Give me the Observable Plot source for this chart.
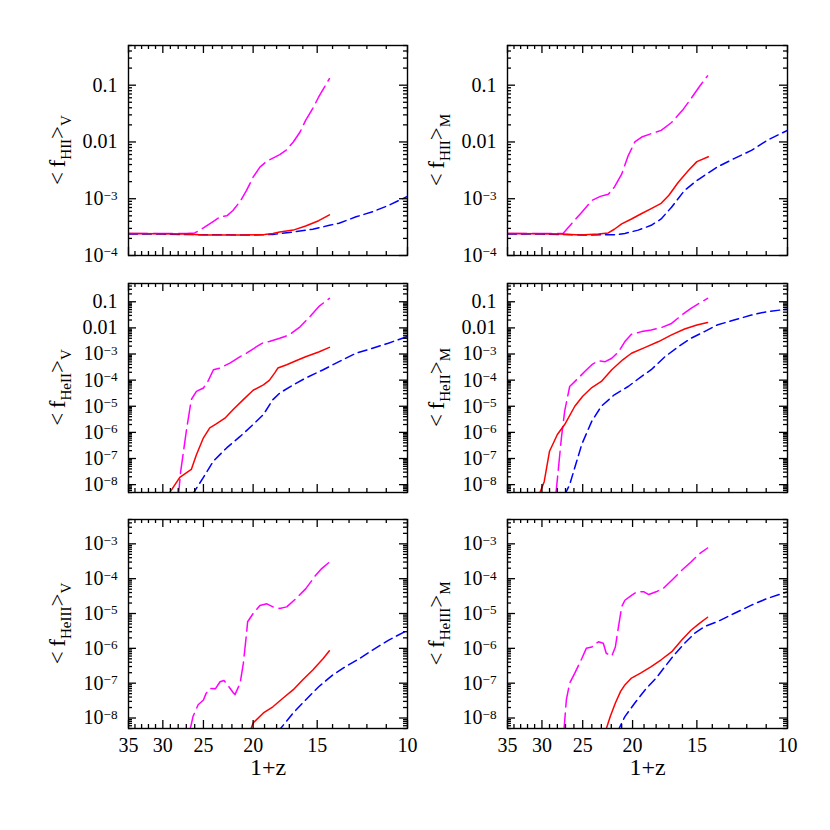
<!DOCTYPE html>
<html><head><meta charset="utf-8">
<script src="https://cdn.jsdelivr.net/npm/d3@7"></script>
<script src="https://cdn.jsdelivr.net/npm/@observablehq/plot@0.6"></script>
<style>
body{margin:0;background:#fff;}
#wrap{position:relative;width:830px;height:830px;overflow:hidden;background:#fff;}
#wrap svg{position:absolute;}
</style></head><body><div id="wrap"></div>
<script>
// ---- axis tick values ----
const xMajorTicks = [35, 30, 25, 20, 15, 10];
const yMajorTop = [1e-4, 1e-3, 0.01, 0.1];
const yMajorMid = [1e-8, 1e-7, 1e-6, 1e-5, 1e-4, 1e-3, 0.01, 0.1];
const yMajorBot = [1e-8, 1e-7, 1e-6, 1e-5, 1e-4, 1e-3];

// ---- data: [1+z, fraction] ----
// <f_HII>_V
const hiiV_magenta = [[35,2.45e-4],[30,2.45e-4],[27,2.45e-4],[26,2.5e-4],[25.4,2.8e-4],[24.7,3.3e-4],[23.9,4.0e-4],[23.2,4.8e-4],[22.5,5.0e-4],[21.9,6.2e-4],[21.2,9e-4],[20.6,1.4e-3],[20.0,2.4e-3],[19.4,3.6e-3],[18.8,4.6e-3],[18.3,5.2e-3],[17.75,6.0e-3],[17.2,7.3e-3],[16.7,0.01],[16.2,0.015],[15.8,0.024],[15.3,0.039],[14.9,0.062],[14.2,0.13]];
const hiiV_red = [[35,2.45e-4],[30,2.42e-4],[27,2.38e-4],[25,2.3e-4],[23,2.3e-4],[21,2.3e-4],[19,2.35e-4],[18.3,2.45e-4],[17.75,2.6e-4],[16.7,2.8e-4],[15.8,3.3e-4],[14.9,4.1e-4],[14.2,5.2e-4]];
const hiiV_blue = [[35,2.4e-4],[30,2.38e-4],[25,2.32e-4],[20,2.3e-4],[18.3,2.35e-4],[16.7,2.6e-4],[15.3,2.9e-4],[14.2,3.4e-4],[13.6,3.7e-4],[12.6,4.8e-4],[11.7,5.9e-4],[10.9,7.6e-4],[10,1.1e-3]];
// <f_HII>_M
const hiiM_magenta = [[35,2.45e-4],[30,2.45e-4],[27.3,2.45e-4],[26.3,3.6e-4],[25.1,5.8e-4],[24.0,9.3e-4],[23.1,1.1e-3],[22.3,1.2e-3],[21.7,1.6e-3],[21.0,2.7e-3],[20.4,5.7e-3],[19.8,0.01],[19.2,0.0122],[18.4,0.014],[17.6,0.016],[16.8,0.022],[16.0,0.036],[15.4,0.058],[14.85,0.093],[14.3,0.146]];
const hiiM_red = [[35,2.45e-4],[30,2.42e-4],[27.5,2.38e-4],[25.3,2.3e-4],[23.3,2.4e-4],[22.3,2.5e-4],[21.7,2.9e-4],[21.0,3.6e-4],[20.1,4.4e-4],[19.2,5.5e-4],[18.4,6.7e-4],[17.6,8.3e-4],[17.0,1.15e-3],[16.3,1.95e-3],[15.55,3.2e-3],[15.0,4.5e-3],[14.25,5.5e-3]];
const hiiM_blue = [[35,2.4e-4],[30,2.38e-4],[25,2.3e-4],[21.5,2.32e-4],[20.7,2.45e-4],[19.5,2.8e-4],[18.4,3.4e-4],[17.6,4.4e-4],[16.8,7.1e-4],[15.85,1.4e-3],[15.0,2.1e-3],[14.3,2.8e-3],[13.7,3.6e-3],[12.7,5.1e-3],[11.75,7.1e-3],[10.95,0.0107],[10,0.016]];
// <f_HeII>_V
const heiiV_magenta = [[28.0,3e-9],[27.7,3e-8],[27.0,1.1e-6],[26.4,1.8e-5],[25.8,3.7e-5],[25.0,5e-5],[24.5,9e-5],[23.9,2.5e-4],[23.2,2.9e-4],[22.2,4.5e-4],[21.2,8e-4],[20.6,1.07e-3],[19.7,1.9e-3],[19.1,2.75e-3],[18.6,3.0e-3],[17.75,4.0e-3],[17.0,5.4e-3],[16.2,0.011],[15.5,0.027],[14.9,0.065],[14.2,0.135]];
const heiiV_red = [[29.3,4e-9],[27.8,1.9e-8],[26.4,3.8e-8],[25.8,1.4e-7],[25.0,6.2e-7],[24.3,1.5e-6],[23.6,2.1e-6],[22.7,3.5e-6],[21.9,7.4e-6],[20.9,1.8e-5],[20.0,4.1e-5],[19.1,6.6e-5],[18.6,9.8e-5],[18.15,1.9e-4],[17.9,2.9e-4],[17.2,3.9e-4],[16.5,5.5e-4],[15.8,7.9e-4],[14.9,1.2e-3],[14.2,1.8e-3]];
const heiiV_blue = [[26.3,4e-9],[25.0,1.9e-8],[23.9,8e-8],[22.5,2.6e-7],[21.2,7e-7],[20.0,2e-6],[19.1,4.8e-6],[18.3,1.8e-5],[17.75,3.2e-5],[16.7,6.6e-5],[15.8,1.2e-4],[14.6,2.5e-4],[13.6,5.1e-4],[12.6,1.07e-3],[11.7,1.66e-3],[10.9,2.6e-3],[10.0,4.7e-3]];
// <f_HeII>_M
const heiiM_magenta = [[28.2,4e-9],[27.9,3.3e-8],[27.5,6.2e-7],[27.1,6.5e-6],[26.5,5.7e-5],[25.5,1.2e-4],[24.8,2.1e-4],[24.0,3.9e-4],[23.3,5.5e-4],[22.6,5.1e-4],[21.95,6.9e-4],[21.3,1.2e-3],[20.7,3.0e-3],[20.1,5.7e-3],[19.2,7.2e-3],[18.4,8.3e-3],[17.6,0.0102],[16.8,0.0148],[16.05,0.031],[15.4,0.056],[14.85,0.087],[14.3,0.135]];
const heiiM_red = [[30.4,4e-9],[29.7,1.3e-8],[29.0,1.9e-7],[28.0,8.3e-7],[27.1,2.0e-6],[25.9,1e-5],[25.0,2.4e-5],[24.0,5.2e-5],[23.0,8.9e-5],[21.95,2.5e-4],[20.9,6e-4],[20.1,1.07e-3],[18.9,1.8e-3],[17.8,3.0e-3],[16.8,5.4e-3],[15.85,9.1e-3],[15.0,0.0129],[14.3,0.0162]];
const heiiM_blue = [[27.1,4e-9],[26.5,1.0e-8],[25.9,4.5e-8],[25.1,3.5e-7],[24.0,2.7e-6],[23.0,1e-5],[21.7,2.75e-5],[20.4,5.7e-5],[19.2,1.4e-4],[18.4,2.5e-4],[17.3,7.9e-4],[16.3,1.9e-3],[15.4,4e-3],[14.5,7.2e-3],[13.7,0.0129],[12.7,0.02],[11.75,0.031],[10.95,0.042],[10.0,0.052]];
// <f_HeIII>_V
const heiiiV_magenta = [[26.6,4e-9],[26.2,1.1e-8],[25.6,2.4e-8],[25.0,3.3e-8],[24.7,5.1e-8],[24.3,7e-8],[23.7,6.9e-8],[23.2,1.1e-7],[22.8,1.2e-7],[22.3,7.9e-8],[21.9,5.5e-8],[21.7,4.7e-8],[21.2,1e-7],[20.9,3.7e-7],[20.6,2.7e-6],[20.5,5.8e-6],[20.0,1e-5],[19.4,1.7e-5],[18.8,1.9e-5],[18.3,1.55e-5],[17.75,1.4e-5],[17.2,1.55e-5],[16.5,2.7e-5],[15.8,5.1e-5],[15.1,1.26e-4],[14.7,1.95e-4],[14.2,3e-4]];
const heiiiV_red = [[20.3,4e-9],[20.0,7.2e-9],[19.1,1.4e-8],[18.3,2.1e-8],[17.5,3.7e-8],[16.7,6.5e-8],[16.0,1.26e-7],[15.3,2.4e-7],[14.6,5.1e-7],[14.2,8.5e-7]];
const heiiiV_blue = [[17.9,4e-9],[16.7,1.4e-8],[15.8,3.3e-8],[14.9,7.9e-8],[14.0,1.7e-7],[13.2,3e-7],[12.4,5.1e-7],[11.7,8.9e-7],[10.9,1.7e-6],[10.0,3.3e-6]];
// <f_HeIII>_M
const heiiiM_magenta = [[27.2,4e-9],[26.9,3.3e-8],[26.5,1e-7],[25.9,1.95e-7],[25.1,5.1e-7],[24.6,1e-6],[24.0,1.1e-6],[23.3,1.55e-6],[22.8,1.4e-6],[22.5,7.2e-7],[21.95,6e-7],[21.6,1.1e-6],[21.3,4.2e-6],[21.0,1.55e-5],[20.7,2.4e-5],[20.1,3.3e-5],[19.6,4.2e-5],[19.0,4.2e-5],[18.6,3.5e-5],[18.0,4.2e-5],[17.4,5.4e-5],[16.8,8.9e-5],[16.05,1.74e-4],[15.4,3e-4],[14.85,5.1e-4],[14.3,7.6e-4]];
const heiiiM_red = [[22.6,4e-9],[22.1,1.1e-8],[21.6,2.7e-8],[21.1,5.8e-8],[20.7,8.9e-8],[20.1,1.4e-7],[19.3,1.95e-7],[18.4,3e-7],[17.6,4.7e-7],[16.8,7.9e-7],[16.05,1.74e-6],[15.4,3.3e-6],[14.85,5.1e-6],[14.3,7.8e-6]];
const heiiiM_blue = [[21.4,4e-9],[20.7,1.1e-8],[19.8,2.7e-8],[18.9,6.5e-8],[18.0,1.4e-7],[17.3,3e-7],[16.6,6.5e-7],[15.85,1.4e-6],[15.15,2.7e-6],[14.5,4.2e-6],[13.7,5.8e-6],[12.7,1e-5],[11.75,1.74e-5],[10.95,2.7e-5],[10.0,4.2e-5]];

// ---- styling helpers ----
const FONT = "'Liberation Serif', 'DejaVu Serif', serif";
function fmtY(v) {
  const e = Math.round(Math.log10(v));
  if (e === -1) return "0.1";
  if (e === -2) return "0.01";
  return "10^" + e;
}
function minorLog(lo, hi) {
  const out = [];
  for (let e = Math.floor(Math.log10(lo)); e <= Math.ceil(Math.log10(hi)); e++)
    for (let k = 2; k <= 9; k++) { const v = k * Math.pow(10, e); if (v >= lo && v <= hi) out.push(v); }
  return out;
}
const xMinorTicks = d3.range(10, 36).filter(v => v % 5 !== 0);

const panels = [
  {m: hiiV_magenta, r: hiiV_red, b: hiiV_blue, dom: [1e-4, 0.5], maj: yMajorTop, sp: "HII", av: "V", col: 0, row: 0},
  {m: hiiM_magenta, r: hiiM_red, b: hiiM_blue, dom: [1e-4, 0.5], maj: yMajorTop, sp: "HII", av: "M", col: 1, row: 0},
  {m: heiiV_magenta, r: heiiV_red, b: heiiV_blue, dom: [5e-9, 0.5], maj: yMajorMid, sp: "HeII", av: "V", col: 0, row: 1},
  {m: heiiM_magenta, r: heiiM_red, b: heiiM_blue, dom: [5e-9, 0.5], maj: yMajorMid, sp: "HeII", av: "M", col: 1, row: 1},
  {m: heiiiV_magenta, r: heiiiV_red, b: heiiiV_blue, dom: [5e-9, 5e-3], maj: yMajorBot, sp: "HeIII", av: "V", col: 0, row: 2},
  {m: heiiiM_magenta, r: heiiiM_red, b: heiiiM_blue, dom: [5e-9, 5e-3], maj: yMajorBot, sp: "HeIII", av: "M", col: 1, row: 2}
];
const cols = [{left: 0, width: 420, mL: 128, mR: 13}, {left: 420, width: 410, mL: 87, mR: 43}];
const rows = [{top: 0, height: 269, mT: 45, mB: 14}, {top: 269, height: 236, mT: 14, mB: 13}, {top: 505, height: 325, mT: 14, mB: 102}];

const wrap = document.getElementById("wrap");
const MAJ = 8, MIN = 4;
for (const p of panels) {
  const c = cols[p.col], r = rows[p.row];
  const fw = c.width - c.mL - c.mR, fh = r.height - r.mT - r.mB;
  const showX = p.row === 2;
  const yMinor = minorLog(p.dom[0], p.dom[1]);
  const lineOpts = (color, dash) => ({x: d => d[0], y: d => d[1], stroke: color, strokeWidth: 1.5, strokeDasharray: dash, clip: true});
  const ts = {stroke: "black", strokeWidth: 1.3};
  const marks = [
    Plot.line(p.m, lineOpts("#ff00ff", "19,6")),
    Plot.line(p.b, lineOpts("#0000ff", "9,5")),
    Plot.line(p.r, lineOpts("#ff0000", null)),
    Plot.frame({stroke: "black", strokeWidth: 1.4}),
    // inward ticks on all four sides (short ticks via insets)
    Plot.tickY(p.maj, {...ts, y: d => d, insetRight: fw - MAJ}),
    Plot.tickY(yMinor, {...ts, y: d => d, insetRight: fw - MIN}),
    Plot.tickY(p.maj, {...ts, y: d => d, insetLeft: fw - MAJ}),
    Plot.tickY(yMinor, {...ts, y: d => d, insetLeft: fw - MIN}),
    Plot.tickX(xMajorTicks, {...ts, x: d => d, insetTop: fh - MAJ}),
    Plot.tickX(xMinorTicks, {...ts, x: d => d, insetTop: fh - MIN}),
    Plot.tickX(xMajorTicks, {...ts, x: d => d, insetBottom: fh - MAJ}),
    Plot.tickX(xMinorTicks, {...ts, x: d => d, insetBottom: fh - MIN}),
    // y tick labels
    Plot.text(p.maj, {y: d => d, frameAnchor: "left", dx: -11, textAnchor: "end", fontSize: 20, text: fmtY})
  ];
  if (showX) {
    marks.push(Plot.text(xMajorTicks, {x: d => d, frameAnchor: "bottom", dy: 9, lineAnchor: "top", fontSize: 20, text: d => String(d)}));
    marks.push(Plot.text(["1+z"], {frameAnchor: "bottom", dy: 39, lineAnchor: "middle", fontSize: 24, text: d => d}));
  }
  const svg = Plot.plot({
    width: c.width, height: r.height,
    marginLeft: c.mL, marginRight: c.mR, marginTop: r.mT, marginBottom: r.mB,
    x: {type: "log", domain: [35, 10], axis: null},
    y: {type: "log", domain: p.dom, axis: null},
    style: {fontFamily: FONT, fontSize: "20px", color: "black", background: "transparent", overflow: "visible"},
    marks
  });
  svg.style.left = c.left + "px";
  svg.style.top = r.top + "px";
  // turn "10^-3" tick labels into 10 with a raised exponent
  d3.select(svg).selectAll("text").each(function () {
    const m = /^10\^(-?\d+)$/.exec(this.textContent);
    if (!m) return;
    const s = d3.select(this);
    s.text(null);
    s.append("tspan").text("10");
    s.append("tspan").attr("dy", "-0.42em").attr("font-size", "0.66em").text(m[1].replace("-", "\u2212"));
  });
  // rotated y-axis label with subscripts
  const t = d3.select(svg).append("text")
    .attr("transform", `translate(${c.mL - 63},${r.mT + fh / 2}) rotate(-90)`)
    .attr("text-anchor", "middle").attr("font-family", FONT).attr("font-size", 23).attr("fill", "black");
  t.append("tspan").text("<\u2009f");
  t.append("tspan").attr("font-size", 15).attr("dy", 6).text(p.sp);
  t.append("tspan").attr("dy", -6).text(">");
  t.append("tspan").attr("font-size", 15).attr("dy", 6).text(p.av);
  wrap.appendChild(svg);
}
</script></body></html>
